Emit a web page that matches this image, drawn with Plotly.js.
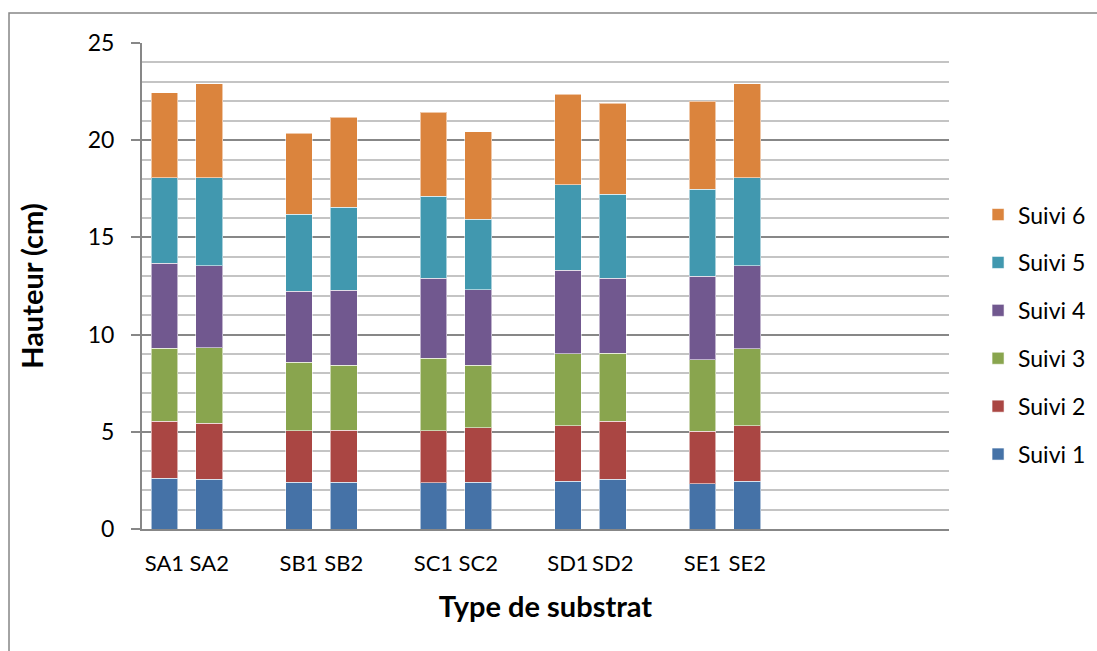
<!DOCTYPE html>
<html>
<head>
<meta charset="utf-8">
<script src="https://cdn.plot.ly/plotly-3.0.1.min.js"></script>
<style>
  html, body { margin: 0; padding: 0; background: #ffffff; }
  #chart { width: 1097px; height: 651px; }
</style>
</head>
<body>
<div id="chart"></div>
<script>
// Substrate samples, two replicates per substrate type
const substrates = ['SA1', 'SA2', 'SB1', 'SB2', 'SC1', 'SC2', 'SD1', 'SD2', 'SE1', 'SE2'];

// Height increment (cm) recorded at each follow-up
const suivi1 = [2.60, 2.55, 2.41, 2.41, 2.39, 2.41, 2.46, 2.55, 2.34, 2.46];
const suivi2 = [2.94, 2.89, 2.65, 2.68, 2.67, 2.79, 2.84, 2.99, 2.69, 2.84];
const suivi3 = [3.75, 3.89, 3.51, 3.34, 3.72, 3.23, 3.72, 3.51, 3.68, 3.98];
const suivi4 = [4.39, 4.22, 3.65, 3.84, 4.13, 3.87, 4.30, 3.86, 4.30, 4.27];
const suivi5 = [4.39, 4.52, 3.96, 4.27, 4.20, 3.64, 4.39, 4.32, 4.46, 4.52];
const suivi6 = [4.36, 4.84, 4.18, 4.63, 4.34, 4.49, 4.65, 4.68, 4.54, 4.84];

const seriesNames = ['Suivi 1', 'Suivi 2', 'Suivi 3', 'Suivi 4', 'Suivi 5', 'Suivi 6'];
const seriesColors = ['#4572A7', '#AA4643', '#89A54E', '#71588F', '#4198AF', '#DB843D'];
const seriesValues = [suivi1, suivi2, suivi3, suivi4, suivi5, suivi6];

// Each substrate pair is followed by one empty slot; the axis keeps spare slots on the right
const slots = substrates.map((_, i) => i + Math.floor(i / 2));
const slotCount = 18;

const FONT = 'Lato, "Open Sans", sans-serif';
const GRID_MAJOR = '#878787';
const GRID_MINOR = '#c4c4c4';

const traces = seriesValues.map((vals, k) => ({
  type: 'bar',
  name: seriesNames[k],
  legendgroup: seriesNames[k],
  legendrank: seriesNames.length - k,
  x: slots,
  y: vals,
  customdata: substrates,
  textposition: 'none',
  marker: { color: seriesColors[k], line: { color: 'rgba(255,255,255,0.55)', width: 1 } },
  hovertemplate: '%{customdata}<br>' + seriesNames[k] + ': %{y:.2f} cm<extra></extra>'
}));

const layout = {
  width: 1097,
  height: 651,
  margin: { l: 142, r: 148, t: 43, b: 122, autoexpand: false },
  paper_bgcolor: '#ffffff',
  plot_bgcolor: '#ffffff',
  barmode: 'stack',
  bargap: 0.407,
  font: { family: FONT, color: '#000000', size: 23 },
  xaxis: {
    range: [-0.5, slotCount - 0.5],
    tickmode: 'array',
    tickvals: slots,
    ticktext: substrates,
    tickangle: 0,
    showgrid: false,
    zeroline: false,
    showline: true,
    linecolor: GRID_MAJOR,
    linewidth: 2,
    ticks: '',
    ticklabelstandoff: 14,
    tickfont: { family: FONT, size: 22, color: '#000000' },
    title: { text: 'Type de substrat', font: { family: FONT, size: 29, color: '#000000', weight: 'bold' }, standoff: 21 },
    automargin: false,
    fixedrange: true
  },
  yaxis: {
    range: [0, 25],
    tickmode: 'linear',
    tick0: 0,
    dtick: 5,
    showgrid: true,
    gridcolor: GRID_MAJOR,
    gridwidth: 2,
    zeroline: false,
    showline: true,
    linecolor: GRID_MAJOR,
    linewidth: 2,
    ticks: 'outside',
    ticklen: 9,
    tickwidth: 2,
    tickcolor: GRID_MAJOR,
    ticklabelstandoff: 12,
    tickfont: { family: FONT, size: 23, color: '#000000' },
    minor: { dtick: 1, showgrid: true, gridcolor: GRID_MINOR, gridwidth: 2, ticks: '' },
    title: { text: 'Hauteur (cm)', font: { family: FONT, size: 29, color: '#000000', weight: 'bold' }, standoff: 36 },
    automargin: false,
    fixedrange: true
  },
  legend: {
    x: 1.036,
    xanchor: 'left',
    y: 0.40,
    yanchor: 'middle',
    traceorder: 'grouped',
    tracegroupgap: 15,
    itemwidth: 30,
    font: { family: FONT, size: 23, color: '#000000' },
    bgcolor: 'rgba(0,0,0,0)'
  },
  shapes: [{
    type: 'rect',
    xref: 'paper', yref: 'paper',
    x0: -0.1648, x1: 1.3,
    y0: -0.4, y1: 1.0617,
    line: { color: '#868686', width: 1.5 },
    fillcolor: 'rgba(0,0,0,0)',
    layer: 'above'
  }],
  showlegend: true
};

Plotly.newPlot('chart', traces, layout, { displayModeBar: false });
</script>
</body>
</html>
